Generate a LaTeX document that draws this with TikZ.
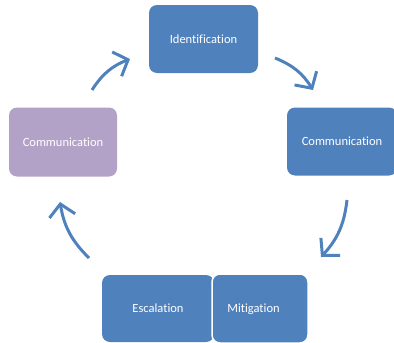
\documentclass[tikz,border=0pt]{standalone}
\usepackage{fontspec}
\setmainfont{Carlito}[Ligatures={NoCommon}]
\usetikzlibrary{arrows.meta,positioning}

\definecolor{boxblue}{HTML}{4F81BD}
\definecolor{boxpurple}{HTML}{B3A2C7}

\begin{document}
\begin{tikzpicture}[x=1pt,y=-1pt, every node/.style={font=\fontsize{12.5}{14}\selectfont}]

	\tikzstyle{box}=[rectangle, rounded corners=8pt, fill=boxblue, text=white, minimum width=109pt, minimum height=68pt, inner sep=0pt]
	\tikzstyle{box2}=[box, fill=boxpurple]
	\tikzstyle{label1}=[text=white]
	\tikzstyle{arrow1}=[-{Straight Barb[length=12pt,width=26pt]}, line width=3pt, draw=boxblue, bend left=18]

	\path [use as bounding box, clip] (0,0) rectangle (394,343);

	\node [box] (ident) at (203.5,39) {Identification};
	\node [box, minimum width=110pt] (comright) at (342,141.5) {Communication};
	\node [box2, minimum width=108pt, minimum height=69pt] (comleft) at (63,142) {Communication};

	\node [box, minimum width=112pt, minimum height=67pt] (escal) at (158,308.5) {Escalation};
	\node [box, minimum width=96pt, minimum height=69pt, draw=white, line width=1.5pt] (mitig) at (260,308.5) {};
	\node [label1] (mitigtext) at (253.5,309) {Mitigation};

	% arrows round the cycle
	\coordinate (a1s) at (92,90);
	\coordinate (a1e) at (130,59);
	\coordinate (a2s) at (275,58);
	\coordinate (a2e) at (313,90);
	\coordinate (a3s) at (347,200);
	\coordinate (a3e) at (321,257);
	\coordinate (a4s) at (89,258);
	\coordinate (a4e) at (60,202);

	\draw [arrow1] (a1s) to (a1e);
	\draw [arrow1] (a2s) to (a2e);
	\draw [arrow1] (a3s) to (a3e);
	\draw [arrow1] (a4s) to (a4e);

\end{tikzpicture}
\end{document}
